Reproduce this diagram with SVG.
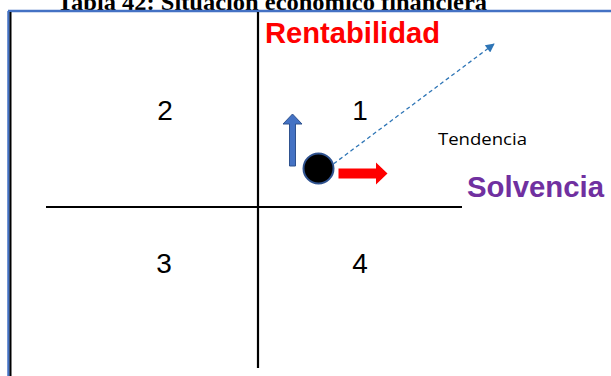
<svg xmlns="http://www.w3.org/2000/svg" width="611" height="376" viewBox="0 0 611 376">
  <style>
    .axis { stroke: #000; stroke-width: 2.2; fill: none; }
    .frame { stroke: #4472C4; stroke-width: 2.5; fill: none; }
    .num { font-family: "Liberation Sans", Arial, sans-serif; font-size: 28px; fill: #000; text-anchor: middle; }
    .big { font-family: "Liberation Sans", Arial, sans-serif; font-size: 29px; font-weight: bold; }
  </style>
  <defs>
    <marker id="ah" viewBox="0 0 10 10" refX="9" refY="5" markerWidth="10" markerHeight="9" orient="auto" markerUnits="userSpaceOnUse">
      <path d="M0,0 L10,5 L0,10 z" fill="#2E75B6"/>
    </marker>
  </defs>
  <rect width="611" height="376" fill="#fff"/>
  <text x="57" y="10" font-family="Liberation Serif, 'Times New Roman', serif" font-size="24" font-weight="bold" textLength="430" lengthAdjust="spacingAndGlyphs">Tabla 42: Situación económico financiera</text>
  <g id="frame">
    <line class="frame" x1="8" y1="11" x2="611" y2="11"/>
    <line class="frame" x1="8.5" y1="11" x2="8.5" y2="376"/>
    <line x1="10.5" y1="12" x2="10.5" y2="376" stroke="#000" stroke-width="2"/>
  </g>
  <g id="axes">
    <line class="axis" x1="258" y1="12" x2="258" y2="368"/>
    <line class="axis" x1="46" y1="207" x2="462" y2="207"/>
  </g>
  <g id="labels">
    <text class="big" x="265" y="43" fill="#FF0000" textLength="175" lengthAdjust="spacingAndGlyphs">Rentabilidad</text>
    <text class="big" x="467" y="197" fill="#7030A0" textLength="137" lengthAdjust="spacingAndGlyphs">Solvencia</text>
    <text x="438" y="145" font-family="'Open Sans', 'Noto Sans', sans-serif" font-size="16" fill="#000" textLength="89" lengthAdjust="spacingAndGlyphs">Tendencia</text>
  </g>
  <g id="quadrant-1"><text class="num" x="360" y="120">1</text></g>
  <g id="quadrant-2"><text class="num" x="165" y="120">2</text></g>
  <g id="quadrant-3"><text class="num" x="164" y="273">3</text></g>
  <g id="quadrant-4"><text class="num" x="360" y="273">4</text></g>
  <g id="connectors">
    <line x1="328" y1="168" x2="494" y2="44" stroke="#2E75B6" stroke-width="1.3" stroke-dasharray="4 3" marker-end="url(#ah)"/>
  </g>
  <g id="up-arrow">
    <path d="M289.5,166 L289.5,124 L283,124 L292.5,114 L302,124 L295.5,124 L295.5,166 Z" fill="#4472C4" stroke="#2F528F" stroke-width="1"/>
  </g>
  <g id="right-arrow">
    <path d="M338.5,168.5 L376,168.5 L376,162.5 L387.5,173.5 L376,184.5 L376,178.5 L338.5,178.5 Z" fill="#FF0000"/>
  </g>
  <g id="point">
    <circle cx="318.5" cy="168.5" r="15" fill="#000" stroke="#2F528F" stroke-width="2"/>
  </g>
</svg>
